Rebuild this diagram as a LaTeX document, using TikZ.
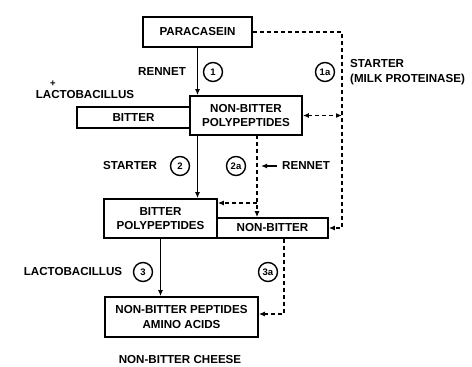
\documentclass[tikz,border=0pt]{standalone}
\usepackage{fontspec}
\setmainfont{Liberation Sans}
\usepackage{xcolor}
\usepackage{tikz}
\usetikzlibrary{arrows.meta,positioning}

\begin{document}
\begin{tikzpicture}[
  x=1pt, y=-1pt,
  font=\bfseries\fontsize{11.6}{14.5}\selectfont,
  every node/.style={inner sep=1pt},
  box/.style={
    draw,
    line width=1.7pt,
    align=center,
    fill=white
  },
  stepno/.style={
    draw,
    circle,
    line width=1.4pt,
    inner sep=0pt,
    minimum size=19pt,
    font=\bfseries\fontsize{9.5}{10}\selectfont
  },
  arrow/.style={-{Latex[length=6pt,width=5pt]},line width=1.6pt},
  darrow/.style={arrow,dash pattern=on 4pt off 3pt}
]
  \useasboundingbox (0,0) rectangle (472,367);

  % boxes
  \node[box,minimum width=113pt,minimum height=21pt] (bitter) at (133.5,117.5) {BITTER};
  \node[box,minimum width=109pt,minimum height=30pt] (para) at (197.5,32) {PARACASEIN};
  \node[box,minimum width=112pt,minimum height=39pt] (npp) at (246,115.5) {NON-BITTER\\POLYPEPTIDES};
  \node[box,minimum width=113pt,minimum height=39pt] (bpp) at (160.5,218.5) {BITTER\\POLYPEPTIDES};
  \node[box,minimum width=111pt,minimum height=20pt] (nb) at (272.5,228) {NON-BITTER};
  \node[box,minimum width=153pt,minimum height=40pt] (nbpa) at (181.5,317) {NON-BITTER PEPTIDES\\AMINO ACIDS};

  % labels and step numbers
  \node (rennet1) at (162,72) {RENNET};
  \node[stepno] (s1) at (213,72) {1};
  \node[stepno] (s1a) at (325,72) {1a};
  \node[align=left,anchor=west] (starter1) at (349,72) {STARTER\\(MILK PROTEINASE)};
  \node (lacto1) at (85,95) {LACTOBACILLUS};
  \node[inner sep=0pt,font=\bfseries\fontsize{9.5}{9.5}\selectfont] (plus) at (53,84) {+};
  \node (starter2) at (130,166) {STARTER};
  \node[stepno] (s2) at (180,166) {2};
  \node[stepno] (s2a) at (236,166) {2a};
  \node[anchor=west] (rennet2) at (281,166) {RENNET};
  \node (lacto2) at (73,272) {LACTOBACILLUS};
  \node[stepno] (s3) at (143,272) {3};
  \node[stepno] (s3a) at (268,272) {3a};
  \node (cheese) at (180,360) {NON-BITTER CHEESE};

  \coordinate (corner) at (342,32);
  \coordinate (split) at (257,135);
  \coordinate (branch) at (257,203);

  % solid path
  \draw[arrow] (para.south) -- (para.south |- npp.north);
  \draw[arrow] (npp.south -| para.south) -- (bpp.north -| para.south);
  \draw[arrow] (bpp.south) -- (bpp.south |- nbpa.north);

  % dashed path
  \draw[darrow] (para.east) -- (corner) |- (nb.east);
  \draw[darrow,{Latex[length=6pt,width=5pt]}-{Latex[length=6pt,width=5pt]}] (npp.east) -- (npp.east -| corner);
  \draw[darrow] (split) -- (split |- nb.north);
  \draw[darrow] (branch) -- (branch -| bpp.east);
  \draw[arrow] ([xshift=-4pt]rennet2.west) -- ([xshift=4pt]rennet2.west -| split);
  \draw[darrow] ([xshift=11.5pt]nb.south) |- ([yshift=3pt]nbpa.east);
\end{tikzpicture}
\end{document}
